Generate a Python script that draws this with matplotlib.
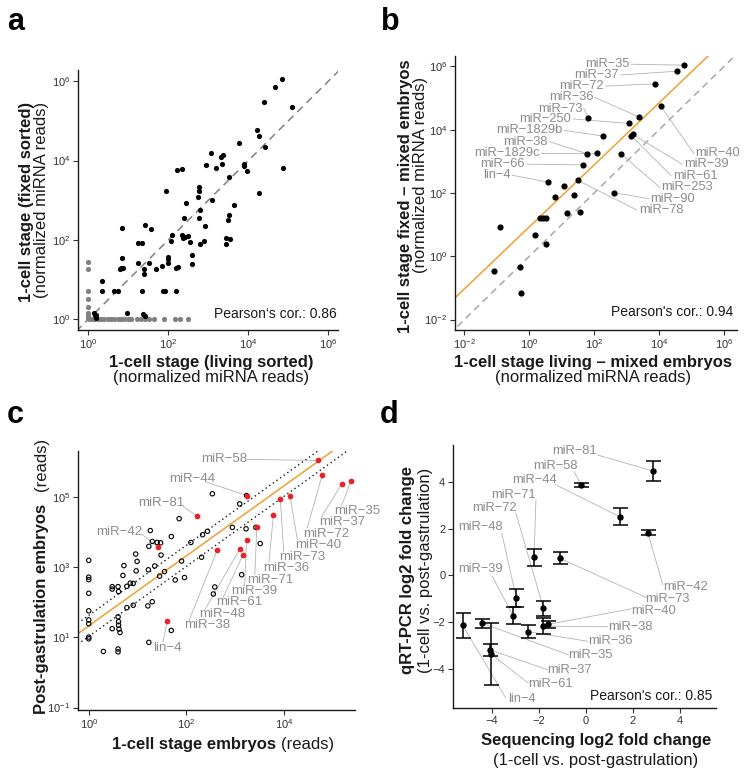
import numpy as np
import matplotlib
matplotlib.use("Agg")
import matplotlib.pyplot as plt
from matplotlib.ticker import FixedLocator, FuncFormatter, NullLocator

plt.rcParams['font.family'] = ['Liberation Sans', 'DejaVu Sans']
plt.rcParams['mathtext.fontset'] = 'custom'
plt.rcParams['mathtext.rm'] = 'Liberation Sans'
plt.rcParams['mathtext.it'] = 'Liberation Sans:italic'
plt.rcParams['mathtext.bf'] = 'Liberation Sans:bold'

# ---------------- DATA (log10 of normalized reads where noted) ----------------
# Panel a: both values detected (black)
a_living_log10 = [4.83, 4.67, 4.39, 5.09, 4.22, 4.27, 4.41, 3.76, 3.07, 3.31, 3.37, 2.94, 3.19, 3.35,
                  3.89, 3.90, 3.96, 4.87, 2.22, 2.34, 3.51, 2.76, 2.76, 2.74, 1.94, 4.26, 3.08, 2.43,
                  3.63, 2.80, 3.51, 2.40, 2.77, 3.48, 2.92, 0.85, 1.41, 1.57, 2.08, 2.33, 2.37, 2.42,
                  2.50, 3.43, 3.54, 2.89, 2.80, 2.07, 2.53, 1.23, 1.33, 3.43, 2.60, 2.58, 0.83, 0.78,
                  0.81, 0.86, 1.23, 1.51, 1.38, 1.39, 1.68, 1.83, 1.98, 2.00, 1.98, 2.18, 2.23, 0.33,
                  0.34, 0.65, 0.75, 1.34, 1.87, 1.92, 2.20, 0.96, 1.36, 0.15, 0.19, 1.42, 0.16, 0.18]
a_fixed_log10 = [6.05, 5.85, 5.47, 5.36, 4.78, 4.62, 4.35, 4.45, 4.18, 4.09, 4.13, 3.88, 3.82, 3.90,
                 3.92, 3.87, 3.74, 3.82, 3.77, 3.78, 3.59, 3.34, 3.23, 3.09, 3.23, 3.18, 3.01, 2.94,
                 2.89, 2.76, 2.62, 2.56, 2.56, 2.50, 2.34, 2.30, 2.37, 2.27, 2.13, 2.12, 2.06, 2.07,
                 2.11, 2.06, 2.03, 1.97, 1.89, 1.96, 1.94, 1.92, 1.92, 1.90, 1.63, 1.39, 1.54, 1.26,
                 1.28, 1.29, 1.42, 1.42, 1.26, 1.13, 1.26, 1.34, 1.58, 1.51, 1.42, 1.28, 1.31, 0.97,
                 0.71, 0.71, 0.71, 0.71, 0.71, 0.71, 0.71, 0.15, 0.13, 0.15, 0.10, 0.08, 0.12, 0.04]
# Panel a: detected in only one sample (grey)
a_single_living_log10 = [0, 0, 0, 0, 0, 0, 0, 0,
                         0.01, 0.08, 0.14, 0.23, 0.31, 0.39, 0.48, 0.56, 0.64, 0.73, 0.81, 0.89,
                         0.98, 1.06, 1.22, 1.31, 1.41, 1.51, 1.64, 1.89, 2.16, 2.30, 2.48]
a_single_fixed_log10 = [1.45, 1.26, 0.72, 0.51, 0.32, 0.15, 0.08, 0.03,
                        0, 0, 0, 0, 0, 0, 0, 0, 0, 0, 0, 0,
                        0, 0, 0, 0, 0, 0, 0, 0, 0, 0, 0]
a_pearson = 0.86

# Panel b
b_names = ["miR-35", "miR-37", "miR-72", "miR-40", "miR-36", "miR-73", "miR-250", "miR-1829b",
           "miR-61", "miR-39", "miR-38", "miR-1829c", "miR-253", "miR-66", "lin-4", "",
           "miR-78", "", "", "miR-90", "", "", "", "", "", "", "", "", "", "", ""]
b_living_log10 = [4.76, 4.55, 3.87, 4.05, 3.39, 1.82, 3.07, 2.28, 3.14, 3.19, 1.79, 2.10, 2.83,
                  1.66, 0.59, 1.08, 1.49, 0.80, 1.38, 2.61, 1.17, 1.56, 0.32, 0.42, 0.52, -0.89,
                  0.16, 0.50, -0.30, -1.10, -0.25]
b_fixed_log10 = [6.04, 5.85, 5.45, 4.74, 4.40, 4.36, 4.20, 3.80, 3.81, 3.85, 3.24, 3.25, 3.23,
                 2.89, 2.34, 2.23, 2.40, 1.88, 1.95, 2.01, 1.36, 1.39, 1.20, 1.20, 1.21, 0.92,
                 0.67, 0.38, -0.34, -0.47, -1.15]
b_fit = (0.93, 0.98)  # intercept, slope in log10 space
b_pearson = 0.94

# Panel c
c_hl_names = ["miR-58", "miR-72", "miR-37", "miR-35", "miR-44", "miR-73", "miR-40", "miR-81",
              "miR-36", "miR-71", "miR-39", "miR-48", "miR-61", "miR-38", "miR-42", "lin-4"]
c_hl_onecell_log10 = [4.70, 4.78, 5.18, 5.37, 3.24, 3.92, 4.12, 2.22, 3.78, 3.44, 3.23, 3.09,
                      3.15, 2.63, 1.41, 1.61]
c_hl_postgast_log10 = [6.05, 5.64, 5.38, 5.47, 5.05, 4.96, 5.04, 4.46, 4.49, 4.14, 3.77, 3.52,
                       3.34, 3.49, 3.58, 1.48]
c_other_onecell_log10 = [2.53, 3.09, 3.23, 1.85, 2.94, 3.22, 3.42, 2.43, 2.33, 1.69, 1.26, 1.30,
                         1.40, 1.47, 1.23, 2.09, 3.51, 1.48, 0.96, 2.31, 1.90, 0.99, 0.0, 0.72,
                         1.35, 1.22, 0.97, 1.55, 0.70, 1.96, 1.77, 1.45, 3.13, 0.0, 0.0, 0.85,
                         0.91, 0.78, 0.48, 0.48, 0.60, 0.61, 2.58, 2.55, 0.0, 1.30, 1.21, 0.91,
                         0.78, 0.0, 0.0, 0.60, 0.0, 0.61, 0.61, 0.48, 0.62, 0.64, 0.0, 0.0,
                         1.69, 1.23, 0.30, 0.60, 0.60]
c_other_postgast_log10 = [5.10, 4.81, 5.05, 4.39, 4.14, 4.10, 4.14, 4.03, 3.93, 3.88, 4.05, 3.74,
                          3.71, 3.70, 3.60, 3.71, 3.68, 3.35, 3.38, 3.29, 3.18, 3.17, 3.20, 3.05,
                          3.04, 2.93, 2.90, 2.88, 2.77, 2.71, 2.64, 2.75, 2.79, 2.72, 2.65, 2.55,
                          2.54, 2.46, 2.45, 2.38, 2.45, 2.31, 2.44, 2.24, 2.26, 2.02, 1.90, 1.92,
                          1.85, 1.76, 1.50, 1.59, 1.39, 1.45, 1.35, 1.25, 1.24, 1.14, 1.01, 0.96,
                          1.20, 0.86, 0.60, 0.67, 0.59]
c_offset_log10 = 1.33      # median ratio line
c_band_log10 = np.log10(2)  # 2-fold band

# Panel d
d_names = ["miR-81", "miR-58", "miR-44", "miR-42", "miR-71", "miR-73", "miR-48", "miR-39",
           "miR-72", "miR-40", "miR-38", "miR-36", "miR-35", "lin-4", "miR-37", "miR-61"]
d_seq_lfc = [2.83, -0.20, 1.43, 2.63, -2.20, -1.09, -2.95, -3.10, -1.80, -1.63, -1.80, -2.46,
             -4.39, -5.23, -4.07, -4.02]
d_qpcr_lfc = [4.48, 3.87, 2.52, 1.83, 0.77, 0.73, -0.98, -1.72, -1.41, -2.10, -2.17, -2.41,
              -2.05, -2.13, -3.19, -3.37]
d_qpcr_err = [0.44, 0.09, 0.35, 0.11, 0.38, 0.26, 0.38, 0.38, 0.33, 0.16, 0.34, 0.29, 0.20,
              0.54, 0.25, 1.33]
d_pearson = 0.85

# ---------------- LAYOUT (label placement, in axis data units) ----------------
b_label_pos = {
    "miR-35": (3.09, 6.07, 'right'), "miR-37": (2.76, 5.73, 'right'), "miR-72": (2.30, 5.38, 'right'),
    "miR-36": (1.97, 5.02, 'right'), "miR-73": (1.63, 4.67, 'right'), "miR-250": (1.30, 4.34, 'right'),
    "miR-1829b": (1.02, 3.98, 'right'), "miR-38": (0.58, 3.62, 'right'), "miR-1829c": (0.32, 3.25, 'right'),
    "miR-66": (-0.13, 2.91, 'right'), "lin-4": (-0.57, 2.56, 'right'),
    "miR-40": (5.12, 3.25, 'left'), "miR-39": (4.76, 2.91, 'left'), "miR-61": (4.42, 2.55, 'left'),
    "miR-253": (4.07, 2.18, 'left'), "miR-90": (3.73, 1.82, 'left'), "miR-78": (3.37, 1.46, 'left'),
}
c_label_pos = {
    "miR-58": (3.24, 6.08, 'right', 3.26, 6.08),
    "miR-44": (2.12, 5.52, 'center', 2.41, 5.43),
    "miR-81": (1.48, 4.84, 'center', 1.93, 4.74),
    "miR-42": (0.63, 4.01, 'center', 1.10, 3.93),
    "lin-4": (1.61, 0.69, 'center', 1.52, 0.88),
    "miR-35": (5.02, 4.60, 'left', 5.17, 4.74),
    "miR-37": (4.71, 4.29, 'left', 4.76, 4.43),
    "miR-72": (4.39, 3.96, 'left', 4.47, 4.12),
    "miR-40": (4.22, 3.63, 'left', 4.27, 3.79),
    "miR-73": (3.89, 3.30, 'left', 3.99, 3.46),
    "miR-36": (3.56, 2.98, 'left', 3.69, 3.15),
    "miR-71": (3.24, 2.64, 'left', 3.40, 2.79),
    "miR-39": (2.92, 2.33, 'left', 3.19, 2.48),
    "miR-61": (2.60, 2.00, 'left', 2.75, 2.14),
    "miR-48": (2.27, 1.67, 'left', 2.39, 1.82),
    "miR-38": (1.95, 1.35, 'left', 2.05, 1.48),
}
d_label_pos = {
    "miR-81": (-0.47, 5.35, 0.50, 5.16), "miR-58": (-1.30, 4.69, -0.50, 4.45),
    "miR-44": (-2.18, 4.09, -1.27, 3.88), "miR-71": (-3.07, 3.45, -2.12, 3.24),
    "miR-72": (-3.90, 2.87, -2.97, 2.67), "miR-48": (-4.49, 2.07, -3.57, 1.81),
    "miR-39": (-4.49, 0.27, -3.97, -0.04), "miR-42": (4.22, -0.50, 3.26, -0.40),
    "miR-73": (3.47, -1.01, 2.55, -0.94), "miR-40": (2.86, -1.51, 1.91, -1.43),
    "miR-38": (1.87, -2.20, 0.92, -2.20), "miR-36": (1.03, -2.82, 0.07, -2.82),
    "miR-35": (0.21, -3.42, -0.74, -3.40), "miR-37": (-0.68, -4.05, -1.63, -4.04),
    "miR-61": (-1.49, -4.66, -2.45, -4.61), "lin-4": (-2.73, -5.28, -3.40, -5.25),
}

W, H = 748, 776
fig = plt.figure(figsize=(W / 100, H / 100), dpi=100)

LABEL_GREY = '#8c8c8c'
SEG_GREY = '#b3b3b3'
ORANGE = '#F0A030'
TICK_COL = '#333333'


def add_ax(l, t, r, b):
    return fig.add_axes([l / W, 1 - b / H, (r - l) / W, (b - t) / H])


def style(ax):
    for s in ['top', 'right']:
        ax.spines[s].set_visible(False)
    for s in ['left', 'bottom']:
        ax.spines[s].set_linewidth(1.0)
        ax.spines[s].set_color('#1a1a1a')
    ax.tick_params(direction='out', length=3.5, width=0.8, color=TICK_COL,
                   labelsize=8.0, labelcolor=TICK_COL, pad=2)


def logfmt(v, p):
    return r'$10^{%d}$' % int(round(np.log10(v)))


def log_axes(ax, xlim, ylim, xt, yt):
    ax.set_xscale('log')
    ax.set_yscale('log')
    ax.set_xlim(10 ** xlim[0], 10 ** xlim[1])
    ax.set_ylim(10 ** ylim[0], 10 ** ylim[1])
    ax.xaxis.set_major_locator(FixedLocator([10.0 ** k for k in xt]))
    ax.yaxis.set_major_locator(FixedLocator([10.0 ** k for k in yt]))
    ax.xaxis.set_minor_locator(NullLocator())
    ax.yaxis.set_minor_locator(NullLocator())
    ax.xaxis.set_major_formatter(FuncFormatter(logfmt))
    ax.yaxis.set_major_formatter(FuncFormatter(logfmt))


def ftext(x, y, s, **kw):
    fig.text(x / W, 1 - y / H, s, **kw)


P = lambda v: 10.0 ** np.asarray(v, dtype=float)

# ---------------- Panel a ----------------
axa = add_ax(78, 70, 338, 330)
style(axa)
log_axes(axa, (-0.26, 6.24), (-0.27, 6.28), [0, 2, 4, 6], [0, 2, 4, 6])
diag = P([-1, 7])
axa.plot(diag, diag, ls=(0, (5, 3.5)), color='#808080', lw=1.1, zorder=1)
axa.scatter(P(a_single_living_log10), P(a_single_fixed_log10), s=14, color='#808080',
            linewidths=0, zorder=2)
axa.scatter(P(a_living_log10), P(a_fixed_log10), s=14, color='black', linewidths=0, zorder=3)
axa.text(0.995, 0.06, "Pearson\u2018s cor.: %.2f" % a_pearson, transform=axa.transAxes,
         ha='right', va='center', fontsize=10, color='#1a1a1a')

# ---------------- Panel b ----------------
axb = add_ax(455, 56, 737, 330)
style(axb)
log_axes(axb, (-2.29, 6.4), (-2.33, 6.33), [-2, 0, 2, 4, 6], [-2, 0, 2, 4, 6])
diag = P([-3, 7])
axb.plot(diag, diag, ls=(0, (5, 3.5)), color='#a0a0a0', lw=1.0, zorder=1)
fx = np.array([-3.0, 7.0])
axb.plot(P(fx), P(b_fit[0] + b_fit[1] * fx), color=ORANGE, lw=1.1, zorder=1)
for name, lx, ly in zip(b_names, b_living_log10, b_fixed_log10):
    if name and name in b_label_pos:
        tx, ty, ha = b_label_pos[name]
        axb.plot(P([tx + (0.05 if ha == 'right' else -0.05), lx]), P([ty, ly]),
                 color=SEG_GREY, lw=0.6, zorder=1)
        axb.text(P(tx), P(ty), name.replace('-', '\u2212'), ha=ha, va='center',
                 fontsize=9.3, color=LABEL_GREY, zorder=4)
axb.scatter(P(b_living_log10), P(b_fixed_log10), s=20, color='black', linewidths=0, zorder=3)
axb.text(0.985, 0.065, "Pearson's cor.: %.2f" % b_pearson, transform=axb.transAxes,
         ha='right', va='center', fontsize=10, color='#1a1a1a')

# ---------------- Panel c ----------------
axc = add_ax(78, 451, 355, 710)
style(axc)
log_axes(axc, (-0.22, 5.45), (-1.07, 6.32), [0, 2, 4], [-1, 1, 3, 5])
lx_line = np.array([-0.22, 5.6])
axc.plot(P(lx_line), P(lx_line + c_offset_log10), color=ORANGE, lw=1.1, zorder=1)
lx_dot = np.array([-0.15, 5.6])
for sgn in (1, -1):
    axc.plot(P(lx_dot), P(lx_dot + c_offset_log10 + sgn * c_band_log10), color='#1a1a1a',
             lw=1.0, ls=(0, (1, 2.2)), zorder=1)
axc.scatter(P(c_other_onecell_log10), P(c_other_postgast_log10), s=10, facecolors='none',
            edgecolors='black', linewidths=0.8, zorder=2)
for name, lx, ly in zip(c_hl_names, c_hl_onecell_log10, c_hl_postgast_log10):
    tx, ty, ha, sx, sy = c_label_pos[name]
    axc.plot(P([sx, lx]), P([sy, ly]), color=SEG_GREY, lw=0.6, zorder=1, clip_on=False)
    axc.text(P(tx), P(ty), name.replace('-', '\u2212'), ha=ha, va='center', fontsize=9.5,
             color=LABEL_GREY, zorder=4, clip_on=False)
axc.scatter(P(c_hl_onecell_log10), P(c_hl_postgast_log10), s=17, color='#E8232A',
            linewidths=0, zorder=3)

# ---------------- Panel d ----------------
axd = add_ax(453, 445, 716, 708)
style(axd)
axd.set_xlim(-5.64, 5.52)
axd.set_ylim(-5.68, 5.59)
axd.set_xticks([-4, -2, 0, 2, 4])
axd.set_yticks([-4, -2, 0, 2, 4])
axd.xaxis.set_major_formatter(FuncFormatter(lambda v, p: ('%d' % v).replace('-', '\u2212')))
axd.yaxis.set_major_formatter(FuncFormatter(lambda v, p: ('%d' % v).replace('-', '\u2212')))
for name, x, y in zip(d_names, d_seq_lfc, d_qpcr_lfc):
    tx, ty, sx, sy = d_label_pos[name]
    axd.plot([sx, x], [sy, y], color=SEG_GREY, lw=0.6, zorder=1)
    axd.text(tx, ty, name.replace('-', '\u2212'), ha='center', va='center', fontsize=9.3,
             color=LABEL_GREY, zorder=4)
axd.errorbar(d_seq_lfc, d_qpcr_lfc, yerr=d_qpcr_err, fmt='o', color='black', ms=3.6,
             capsize=5.4, elinewidth=1.1, capthick=1.1, zorder=3)
axd.text(0.985, 0.045, "Pearson's cor.: %.2f" % d_pearson, transform=axd.transAxes,
         ha='right', va='center', fontsize=10, color='#1a1a1a')

# ---------------- Titles / axis labels ----------------
ftext(7, 30, 'a', fontsize=22, fontweight='bold', va='baseline')
ftext(381, 30, 'b', fontsize=22, fontweight='bold', va='baseline')
ftext(7, 423, 'c', fontsize=22, fontweight='bold', va='baseline')
ftext(380, 423, 'd', fontsize=22, fontweight='bold', va='baseline')

tk = dict(fontsize=12, color='#1a1a1a', ha='center', va='center')
# a
ftext(211, 362, '1-cell stage (living sorted)', fontweight='bold', **tk)
ftext(211, 377, '(normalized miRNA reads)', **tk)
ftext(27, 202, '1-cell stage (fixed sorted)', fontweight='bold', rotation=90, **tk)
ftext(42, 200, '(normalized miRNA reads)', rotation=90, **tk)
# b
ftext(593, 362, '1-cell stage living \u2013 mixed embryos', fontweight='bold', **tk)
ftext(593, 377, '(normalized miRNA reads)', **tk)
ftext(406, 196, '1-cell stage fixed \u2013 mixed embryos', fontweight='bold', rotation=90, **tk)
ftext(420, 175, '(normalized miRNA reads)', rotation=90, **tk)
# c
ftext(194.5, 744, '1-cell stage embryos', fontweight='bold', **tk)
ftext(307.5, 744, '(reads)', **tk)
ftext(42, 609, 'Post-gastrulation embryos', fontweight='bold', rotation=90, **tk)
ftext(42, 464, '(reads)', rotation=90, **tk)
# d
ftext(596, 741, 'Sequencing log2 fold change', fontweight='bold', **tk)
ftext(596, 761, '(1-cell vs. post-gastrulation)', **tk)
ftext(408, 570, 'qRT-PCR log2 fold change', fontweight='bold', rotation=90, **tk)
ftext(425, 570, '(1-cell vs. post-gastrulation)', rotation=90, **tk)

fig.savefig('out.png', dpi=100)
